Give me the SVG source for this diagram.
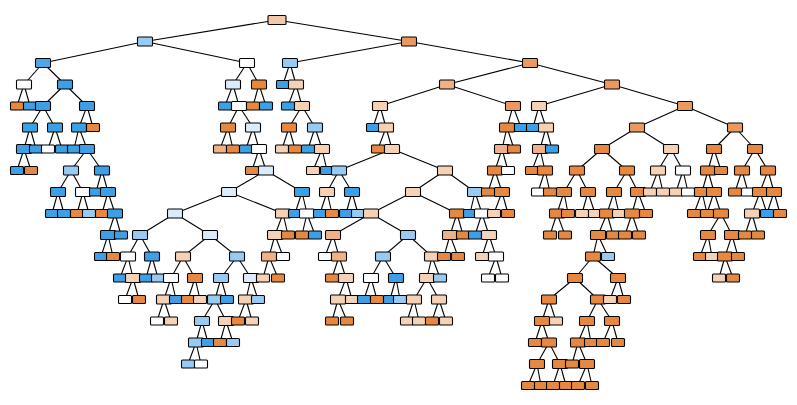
<svg xmlns="http://www.w3.org/2000/svg" width="797" height="405" viewBox="0 0 797 405">
<style>
.B{fill:#3d9fe6}.B2{fill:#4ea7e8}.LB{fill:#98cbf1}.VLB{fill:#dcebfa}.W{fill:#fbfdff}.BE{fill:#f5d1b6}.LO{fill:#efb286}.O{fill:#e6883f}.O2{fill:#ea9a5e}.RT{fill:#f3c8a8}
#edges line{stroke:#000;stroke-width:1.1}
</style>
<defs>
<rect id="R" x="-9" y="-4.5" width="18" height="9" rx="1" stroke="#000" stroke-width="1.1"/>
<rect id="I" x="-7.5" y="-4.5" width="15" height="9" rx="1" stroke="#000" stroke-width="1.1"/>
<rect id="L" x="-6.5" y="-4" width="13" height="8" rx="1" stroke="#000" stroke-width="1.1"/>
</defs>
<rect width="797" height="405" fill="#fff"/>
<g id="edges">
<line x1="277" y1="20" x2="145" y2="41.5"/><line x1="277" y1="20" x2="409" y2="41.5"/>
<line x1="145" y1="41.5" x2="43" y2="63"/><line x1="145" y1="41.5" x2="247" y2="63"/><line x1="409" y1="41.5" x2="290" y2="63"/><line x1="409" y1="41.5" x2="530" y2="63"/>
<line x1="43" y1="63" x2="24" y2="84.5"/><line x1="43" y1="63" x2="65" y2="84.5"/><line x1="247" y1="63" x2="233" y2="84.5"/><line x1="247" y1="63" x2="259" y2="84.5"/><line x1="290" y1="63" x2="283" y2="84.5"/><line x1="290" y1="63" x2="296" y2="84.5"/><line x1="530" y1="63" x2="447" y2="84.5"/><line x1="530" y1="63" x2="612" y2="84.5"/>
<line x1="24" y1="84.5" x2="17" y2="106"/><line x1="24" y1="84.5" x2="30" y2="106"/><line x1="65" y1="84.5" x2="43" y2="106"/><line x1="65" y1="84.5" x2="87" y2="106"/><line x1="233" y1="84.5" x2="225" y2="106"/><line x1="233" y1="84.5" x2="239" y2="106"/><line x1="259" y1="84.5" x2="253" y2="106"/><line x1="259" y1="84.5" x2="266" y2="106"/><line x1="296" y1="84.5" x2="288" y2="106"/><line x1="296" y1="84.5" x2="302" y2="106"/><line x1="447" y1="84.5" x2="380" y2="106"/><line x1="447" y1="84.5" x2="513" y2="106"/><line x1="612" y1="84.5" x2="539" y2="106"/><line x1="612" y1="84.5" x2="685" y2="106"/>
<line x1="43" y1="106" x2="30" y2="127.5"/><line x1="43" y1="106" x2="55" y2="127.5"/><line x1="87" y1="106" x2="79" y2="127.5"/><line x1="87" y1="106" x2="93" y2="127.5"/><line x1="239" y1="106" x2="228" y2="127.5"/><line x1="239" y1="106" x2="253" y2="127.5"/><line x1="302" y1="106" x2="289" y2="127.5"/><line x1="302" y1="106" x2="315" y2="127.5"/><line x1="380" y1="106" x2="373" y2="127.5"/><line x1="380" y1="106" x2="386" y2="127.5"/><line x1="513" y1="106" x2="507" y2="127.5"/><line x1="513" y1="106" x2="521" y2="127.5"/><line x1="539" y1="106" x2="533" y2="127.5"/><line x1="539" y1="106" x2="546" y2="127.5"/><line x1="685" y1="106" x2="637" y2="127.5"/><line x1="685" y1="106" x2="735" y2="127.5"/>
<line x1="30" y1="127.5" x2="24" y2="149"/><line x1="30" y1="127.5" x2="36" y2="149"/><line x1="55" y1="127.5" x2="48" y2="149"/><line x1="55" y1="127.5" x2="62" y2="149"/><line x1="79" y1="127.5" x2="74" y2="149"/><line x1="79" y1="127.5" x2="87" y2="149"/><line x1="228" y1="127.5" x2="220" y2="149"/><line x1="228" y1="127.5" x2="233" y2="149"/><line x1="253" y1="127.5" x2="246" y2="149"/><line x1="253" y1="127.5" x2="259" y2="149"/><line x1="289" y1="127.5" x2="282" y2="149"/><line x1="289" y1="127.5" x2="295" y2="149"/><line x1="315" y1="127.5" x2="308" y2="149"/><line x1="315" y1="127.5" x2="322" y2="149"/><line x1="386" y1="127.5" x2="378" y2="149"/><line x1="386" y1="127.5" x2="392" y2="149"/><line x1="507" y1="127.5" x2="502" y2="149"/><line x1="507" y1="127.5" x2="514" y2="149"/><line x1="546" y1="127.5" x2="540" y2="149"/><line x1="546" y1="127.5" x2="552" y2="149"/><line x1="637" y1="127.5" x2="602" y2="149"/><line x1="637" y1="127.5" x2="671" y2="149"/><line x1="735" y1="127.5" x2="714" y2="149"/><line x1="735" y1="127.5" x2="755" y2="149"/>
<line x1="24" y1="149" x2="17" y2="170.5"/><line x1="24" y1="149" x2="31" y2="170.5"/><line x1="87" y1="149" x2="71" y2="170.5"/><line x1="87" y1="149" x2="102" y2="170.5"/><line x1="259" y1="149" x2="252" y2="170.5"/><line x1="259" y1="149" x2="266" y2="170.5"/><line x1="322" y1="149" x2="313" y2="170.5"/><line x1="322" y1="149" x2="327" y2="170.5"/><line x1="392" y1="149" x2="339" y2="170.5"/><line x1="392" y1="149" x2="445" y2="170.5"/><line x1="502" y1="149" x2="495" y2="170.5"/><line x1="502" y1="149" x2="508" y2="170.5"/><line x1="540" y1="149" x2="532" y2="170.5"/><line x1="540" y1="149" x2="545" y2="170.5"/><line x1="602" y1="149" x2="577" y2="170.5"/><line x1="602" y1="149" x2="627" y2="170.5"/><line x1="671" y1="149" x2="658" y2="170.5"/><line x1="671" y1="149" x2="683" y2="170.5"/><line x1="714" y1="149" x2="708" y2="170.5"/><line x1="714" y1="149" x2="721" y2="170.5"/><line x1="755" y1="149" x2="742" y2="170.5"/><line x1="755" y1="149" x2="768" y2="170.5"/>
<line x1="71" y1="170.5" x2="58" y2="192"/><line x1="71" y1="170.5" x2="83" y2="192"/><line x1="102" y1="170.5" x2="96" y2="192"/><line x1="102" y1="170.5" x2="108" y2="192"/><line x1="266" y1="170.5" x2="229" y2="192"/><line x1="266" y1="170.5" x2="302" y2="192"/><line x1="339" y1="170.5" x2="327" y2="192"/><line x1="339" y1="170.5" x2="352" y2="192"/><line x1="445" y1="170.5" x2="413" y2="192"/><line x1="445" y1="170.5" x2="475" y2="192"/><line x1="495" y1="170.5" x2="488" y2="192"/><line x1="495" y1="170.5" x2="502" y2="192"/><line x1="545" y1="170.5" x2="538" y2="192"/><line x1="545" y1="170.5" x2="550" y2="192"/><line x1="577" y1="170.5" x2="564" y2="192"/><line x1="577" y1="170.5" x2="588" y2="192"/><line x1="627" y1="170.5" x2="614" y2="192"/><line x1="627" y1="170.5" x2="638" y2="192"/><line x1="658" y1="170.5" x2="650" y2="192"/><line x1="658" y1="170.5" x2="663" y2="192"/><line x1="683" y1="170.5" x2="676" y2="192"/><line x1="683" y1="170.5" x2="688" y2="192"/><line x1="708" y1="170.5" x2="702" y2="192"/><line x1="708" y1="170.5" x2="714" y2="192"/><line x1="742" y1="170.5" x2="735" y2="192"/><line x1="742" y1="170.5" x2="748" y2="192"/><line x1="768" y1="170.5" x2="760" y2="192"/><line x1="768" y1="170.5" x2="774" y2="192"/>
<line x1="58" y1="192" x2="52" y2="213.5"/><line x1="58" y1="192" x2="64" y2="213.5"/><line x1="83" y1="192" x2="77" y2="213.5"/><line x1="83" y1="192" x2="89" y2="213.5"/><line x1="108" y1="192" x2="102" y2="213.5"/><line x1="108" y1="192" x2="115" y2="213.5"/><line x1="229" y1="192" x2="175" y2="213.5"/><line x1="229" y1="192" x2="283" y2="213.5"/><line x1="302" y1="192" x2="295" y2="213.5"/><line x1="302" y1="192" x2="307" y2="213.5"/><line x1="327" y1="192" x2="320" y2="213.5"/><line x1="327" y1="192" x2="332" y2="213.5"/><line x1="352" y1="192" x2="346" y2="213.5"/><line x1="352" y1="192" x2="358" y2="213.5"/><line x1="413" y1="192" x2="371" y2="213.5"/><line x1="413" y1="192" x2="457" y2="213.5"/><line x1="475" y1="192" x2="470" y2="213.5"/><line x1="475" y1="192" x2="482" y2="213.5"/><line x1="502" y1="192" x2="494" y2="213.5"/><line x1="502" y1="192" x2="508" y2="213.5"/><line x1="564" y1="192" x2="557" y2="213.5"/><line x1="564" y1="192" x2="568" y2="213.5"/><line x1="588" y1="192" x2="582" y2="213.5"/><line x1="588" y1="192" x2="595" y2="213.5"/><line x1="614" y1="192" x2="607" y2="213.5"/><line x1="614" y1="192" x2="619" y2="213.5"/><line x1="638" y1="192" x2="632" y2="213.5"/><line x1="638" y1="192" x2="646" y2="213.5"/><line x1="702" y1="192" x2="694" y2="213.5"/><line x1="702" y1="192" x2="707" y2="213.5"/><line x1="714" y1="192" x2="707" y2="213.5"/><line x1="714" y1="192" x2="721" y2="213.5"/><line x1="760" y1="192" x2="752" y2="213.5"/><line x1="760" y1="192" x2="767" y2="213.5"/><line x1="774" y1="192" x2="767" y2="213.5"/><line x1="774" y1="192" x2="780" y2="213.5"/>
<line x1="115" y1="213.5" x2="108" y2="235"/><line x1="115" y1="213.5" x2="121" y2="235"/><line x1="175" y1="213.5" x2="140" y2="235"/><line x1="175" y1="213.5" x2="210" y2="235"/><line x1="283" y1="213.5" x2="275" y2="235"/><line x1="283" y1="213.5" x2="288" y2="235"/><line x1="307" y1="213.5" x2="302" y2="235"/><line x1="307" y1="213.5" x2="315" y2="235"/><line x1="371" y1="213.5" x2="333" y2="235"/><line x1="371" y1="213.5" x2="408" y2="235"/><line x1="457" y1="213.5" x2="450" y2="235"/><line x1="457" y1="213.5" x2="463" y2="235"/><line x1="482" y1="213.5" x2="475" y2="235"/><line x1="482" y1="213.5" x2="489" y2="235"/><line x1="557" y1="213.5" x2="550" y2="235"/><line x1="557" y1="213.5" x2="565" y2="235"/><line x1="607" y1="213.5" x2="598" y2="235"/><line x1="607" y1="213.5" x2="613" y2="235"/><line x1="632" y1="213.5" x2="625" y2="235"/><line x1="632" y1="213.5" x2="639" y2="235"/><line x1="721" y1="213.5" x2="708" y2="235"/><line x1="721" y1="213.5" x2="732" y2="235"/><line x1="752" y1="213.5" x2="745" y2="235"/><line x1="752" y1="213.5" x2="758" y2="235"/>
<line x1="108" y1="235" x2="101" y2="256.5"/><line x1="108" y1="235" x2="113" y2="256.5"/><line x1="140" y1="235" x2="128" y2="256.5"/><line x1="140" y1="235" x2="152" y2="256.5"/><line x1="210" y1="235" x2="183" y2="256.5"/><line x1="210" y1="235" x2="237" y2="256.5"/><line x1="275" y1="235" x2="269" y2="256.5"/><line x1="275" y1="235" x2="283" y2="256.5"/><line x1="333" y1="235" x2="325" y2="256.5"/><line x1="333" y1="235" x2="339" y2="256.5"/><line x1="408" y1="235" x2="383" y2="256.5"/><line x1="408" y1="235" x2="432" y2="256.5"/><line x1="450" y1="235" x2="444" y2="256.5"/><line x1="450" y1="235" x2="458" y2="256.5"/><line x1="489" y1="235" x2="482" y2="256.5"/><line x1="489" y1="235" x2="496" y2="256.5"/><line x1="598" y1="235" x2="593" y2="256.5"/><line x1="598" y1="235" x2="608" y2="256.5"/><line x1="708" y1="235" x2="700" y2="256.5"/><line x1="708" y1="235" x2="712" y2="256.5"/><line x1="732" y1="235" x2="725" y2="256.5"/><line x1="732" y1="235" x2="738" y2="256.5"/>
<line x1="128" y1="256.5" x2="120" y2="278"/><line x1="128" y1="256.5" x2="133" y2="278"/><line x1="152" y1="256.5" x2="146" y2="278"/><line x1="152" y1="256.5" x2="158" y2="278"/><line x1="183" y1="256.5" x2="171" y2="278"/><line x1="183" y1="256.5" x2="195" y2="278"/><line x1="237" y1="256.5" x2="221" y2="278"/><line x1="237" y1="256.5" x2="251" y2="278"/><line x1="269" y1="256.5" x2="263" y2="278"/><line x1="269" y1="256.5" x2="278" y2="278"/><line x1="339" y1="256.5" x2="332" y2="278"/><line x1="339" y1="256.5" x2="346" y2="278"/><line x1="383" y1="256.5" x2="371" y2="278"/><line x1="383" y1="256.5" x2="396" y2="278"/><line x1="432" y1="256.5" x2="427" y2="278"/><line x1="432" y1="256.5" x2="440" y2="278"/><line x1="496" y1="256.5" x2="488" y2="278"/><line x1="496" y1="256.5" x2="502" y2="278"/><line x1="593" y1="256.5" x2="575" y2="278"/><line x1="593" y1="256.5" x2="618" y2="278"/><line x1="725" y1="256.5" x2="719" y2="278"/><line x1="725" y1="256.5" x2="733" y2="278"/>
<line x1="133" y1="278" x2="125" y2="299.5"/><line x1="133" y1="278" x2="139" y2="299.5"/><line x1="171" y1="278" x2="164" y2="299.5"/><line x1="171" y1="278" x2="176" y2="299.5"/><line x1="195" y1="278" x2="188" y2="299.5"/><line x1="195" y1="278" x2="200" y2="299.5"/><line x1="221" y1="278" x2="215" y2="299.5"/><line x1="221" y1="278" x2="227" y2="299.5"/><line x1="251" y1="278" x2="246" y2="299.5"/><line x1="251" y1="278" x2="258" y2="299.5"/><line x1="346" y1="278" x2="338" y2="299.5"/><line x1="346" y1="278" x2="352" y2="299.5"/><line x1="371" y1="278" x2="364" y2="299.5"/><line x1="371" y1="278" x2="377" y2="299.5"/><line x1="396" y1="278" x2="390" y2="299.5"/><line x1="396" y1="278" x2="400" y2="299.5"/><line x1="427" y1="278" x2="414" y2="299.5"/><line x1="427" y1="278" x2="439" y2="299.5"/><line x1="575" y1="278" x2="549" y2="299.5"/><line x1="575" y1="278" x2="598" y2="299.5"/><line x1="618" y1="278" x2="610" y2="299.5"/><line x1="618" y1="278" x2="624" y2="299.5"/>
<line x1="164" y1="299.5" x2="157" y2="321"/><line x1="164" y1="299.5" x2="171" y2="321"/><line x1="215" y1="299.5" x2="202" y2="321"/><line x1="215" y1="299.5" x2="226" y2="321"/><line x1="246" y1="299.5" x2="238" y2="321"/><line x1="246" y1="299.5" x2="252" y2="321"/><line x1="338" y1="299.5" x2="332" y2="321"/><line x1="338" y1="299.5" x2="347" y2="321"/><line x1="414" y1="299.5" x2="407" y2="321"/><line x1="414" y1="299.5" x2="419" y2="321"/><line x1="439" y1="299.5" x2="432" y2="321"/><line x1="439" y1="299.5" x2="446" y2="321"/><line x1="549" y1="299.5" x2="542" y2="321"/><line x1="549" y1="299.5" x2="556" y2="321"/><line x1="598" y1="299.5" x2="587" y2="321"/><line x1="598" y1="299.5" x2="612" y2="321"/>
<line x1="202" y1="321" x2="196" y2="342.5"/><line x1="202" y1="321" x2="208" y2="342.5"/><line x1="226" y1="321" x2="220" y2="342.5"/><line x1="226" y1="321" x2="233" y2="342.5"/><line x1="542" y1="321" x2="535" y2="342.5"/><line x1="542" y1="321" x2="549" y2="342.5"/><line x1="587" y1="321" x2="578" y2="342.5"/><line x1="587" y1="321" x2="591" y2="342.5"/><line x1="612" y1="321" x2="603" y2="342.5"/><line x1="612" y1="321" x2="618" y2="342.5"/>
<line x1="196" y1="342.5" x2="188" y2="364"/><line x1="196" y1="342.5" x2="201" y2="364"/><line x1="549" y1="342.5" x2="537" y2="364"/><line x1="549" y1="342.5" x2="560" y2="364"/><line x1="578" y1="342.5" x2="572" y2="364"/><line x1="578" y1="342.5" x2="587" y2="364"/>
<line x1="537" y1="364" x2="528" y2="385.5"/><line x1="537" y1="364" x2="541" y2="385.5"/><line x1="560" y1="364" x2="553" y2="385.5"/><line x1="560" y1="364" x2="566" y2="385.5"/><line x1="587" y1="364" x2="578" y2="385.5"/><line x1="587" y1="364" x2="592" y2="385.5"/>
</g>
<g id="n0_277"><use href="#R" x="277" y="20" class="RT"/></g>
<g id="n1_145"><use href="#I" x="145" y="41.5" class="LB"/></g>
<g id="n1_409"><use href="#I" x="409" y="41.5" class="O2"/></g>
<g id="n2_43"><use href="#I" x="43" y="63" class="B2"/></g>
<g id="n2_247"><use href="#I" x="247" y="63" class="W"/></g>
<g id="n2_290"><use href="#I" x="290" y="63" class="LB"/></g>
<g id="n2_530"><use href="#I" x="530" y="63" class="O2"/></g>
<g id="n3_24"><use href="#I" x="24" y="84.5" class="W"/></g>
<g id="n3_65"><use href="#I" x="65" y="84.5" class="B"/></g>
<g id="n3_233"><use href="#I" x="233" y="84.5" class="VLB"/></g>
<g id="n3_259"><use href="#I" x="259" y="84.5" class="O"/></g>
<g id="n3_283"><use href="#L" x="283" y="84.5" class="B"/></g>
<g id="n3_296"><use href="#I" x="296" y="84.5" class="BE"/></g>
<g id="n3_447"><use href="#I" x="447" y="84.5" class="LO"/></g>
<g id="n3_612"><use href="#I" x="612" y="84.5" class="O2"/></g>
<g id="n4_17"><use href="#L" x="17" y="106" class="O"/></g>
<g id="n4_30"><use href="#L" x="30" y="106" class="B"/></g>
<g id="n4_43"><use href="#I" x="43" y="106" class="B"/></g>
<g id="n4_87"><use href="#I" x="87" y="106" class="B"/></g>
<g id="n4_225"><use href="#L" x="225" y="106" class="B"/></g>
<g id="n4_239"><use href="#I" x="239" y="106" class="W"/></g>
<g id="n4_253"><use href="#L" x="253" y="106" class="O"/></g>
<g id="n4_266"><use href="#L" x="266" y="106" class="B"/></g>
<g id="n4_288"><use href="#L" x="288" y="106" class="B"/></g>
<g id="n4_302"><use href="#I" x="302" y="106" class="BE"/></g>
<g id="n4_380"><use href="#I" x="380" y="106" class="BE"/></g>
<g id="n4_513"><use href="#I" x="513" y="106" class="O2"/></g>
<g id="n4_539"><use href="#I" x="539" y="106" class="BE"/></g>
<g id="n4_685"><use href="#I" x="685" y="106" class="O2"/></g>
<g id="n5_30"><use href="#I" x="30" y="127.5" class="B"/></g>
<g id="n5_55"><use href="#I" x="55" y="127.5" class="B"/></g>
<g id="n5_79"><use href="#I" x="79" y="127.5" class="B"/></g>
<g id="n5_93"><use href="#L" x="93" y="127.5" class="O"/></g>
<g id="n5_228"><use href="#I" x="228" y="127.5" class="O"/></g>
<g id="n5_253"><use href="#I" x="253" y="127.5" class="VLB"/></g>
<g id="n5_289"><use href="#I" x="289" y="127.5" class="O"/></g>
<g id="n5_315"><use href="#I" x="315" y="127.5" class="LB"/></g>
<g id="n5_373"><use href="#L" x="373" y="127.5" class="B"/></g>
<g id="n5_386"><use href="#I" x="386" y="127.5" class="BE"/></g>
<g id="n5_507"><use href="#I" x="507" y="127.5" class="O"/></g>
<g id="n5_521"><use href="#L" x="521" y="127.5" class="B"/></g>
<g id="n5_533"><use href="#L" x="533" y="127.5" class="B"/></g>
<g id="n5_546"><use href="#I" x="546" y="127.5" class="BE"/></g>
<g id="n5_637"><use href="#I" x="637" y="127.5" class="O2"/></g>
<g id="n5_735"><use href="#I" x="735" y="127.5" class="O2"/></g>
<g id="n6_24"><use href="#I" x="24" y="149" class="B"/></g>
<g id="n6_36"><use href="#L" x="36" y="149" class="B"/></g>
<g id="n6_48"><use href="#L" x="48" y="149" class="W"/></g>
<g id="n6_62"><use href="#L" x="62" y="149" class="B"/></g>
<g id="n6_74"><use href="#L" x="74" y="149" class="B"/></g>
<g id="n6_87"><use href="#I" x="87" y="149" class="B"/></g>
<g id="n6_220"><use href="#L" x="220" y="149" class="LO"/></g>
<g id="n6_233"><use href="#L" x="233" y="149" class="O"/></g>
<g id="n6_246"><use href="#L" x="246" y="149" class="B"/></g>
<g id="n6_259"><use href="#I" x="259" y="149" class="W"/></g>
<g id="n6_282"><use href="#L" x="282" y="149" class="BE"/></g>
<g id="n6_295"><use href="#L" x="295" y="149" class="O"/></g>
<g id="n6_308"><use href="#L" x="308" y="149" class="B"/></g>
<g id="n6_322"><use href="#I" x="322" y="149" class="BE"/></g>
<g id="n6_378"><use href="#L" x="378" y="149" class="O"/></g>
<g id="n6_392"><use href="#I" x="392" y="149" class="BE"/></g>
<g id="n6_502"><use href="#I" x="502" y="149" class="LO"/></g>
<g id="n6_514"><use href="#L" x="514" y="149" class="O"/></g>
<g id="n6_540"><use href="#I" x="540" y="149" class="LO"/></g>
<g id="n6_552"><use href="#L" x="552" y="149" class="B"/></g>
<g id="n6_602"><use href="#I" x="602" y="149" class="O"/></g>
<g id="n6_671"><use href="#I" x="671" y="149" class="BE"/></g>
<g id="n6_714"><use href="#I" x="714" y="149" class="O"/></g>
<g id="n6_755"><use href="#I" x="755" y="149" class="O"/></g>
<g id="n7_17"><use href="#L" x="17" y="170.5" class="B"/></g>
<g id="n7_31"><use href="#L" x="31" y="170.5" class="O"/></g>
<g id="n7_71"><use href="#I" x="71" y="170.5" class="LB"/></g>
<g id="n7_102"><use href="#I" x="102" y="170.5" class="B"/></g>
<g id="n7_252"><use href="#L" x="252" y="170.5" class="O"/></g>
<g id="n7_266"><use href="#I" x="266" y="170.5" class="VLB"/></g>
<g id="n7_313"><use href="#L" x="313" y="170.5" class="BE"/></g>
<g id="n7_327"><use href="#L" x="327" y="170.5" class="B"/></g>
<g id="n7_339"><use href="#I" x="339" y="170.5" class="LB"/></g>
<g id="n7_445"><use href="#I" x="445" y="170.5" class="BE"/></g>
<g id="n7_495"><use href="#I" x="495" y="170.5" class="O"/></g>
<g id="n7_508"><use href="#L" x="508" y="170.5" class="W"/></g>
<g id="n7_532"><use href="#L" x="532" y="170.5" class="O"/></g>
<g id="n7_545"><use href="#I" x="545" y="170.5" class="O"/></g>
<g id="n7_577"><use href="#I" x="577" y="170.5" class="O"/></g>
<g id="n7_627"><use href="#I" x="627" y="170.5" class="O"/></g>
<g id="n7_658"><use href="#I" x="658" y="170.5" class="BE"/></g>
<g id="n7_683"><use href="#I" x="683" y="170.5" class="W"/></g>
<g id="n7_708"><use href="#I" x="708" y="170.5" class="O"/></g>
<g id="n7_721"><use href="#L" x="721" y="170.5" class="O"/></g>
<g id="n7_742"><use href="#I" x="742" y="170.5" class="O"/></g>
<g id="n7_768"><use href="#I" x="768" y="170.5" class="O"/></g>
<g id="n8_58"><use href="#I" x="58" y="192" class="B"/></g>
<g id="n8_83"><use href="#I" x="83" y="192" class="W"/></g>
<g id="n8_96"><use href="#L" x="96" y="192" class="B"/></g>
<g id="n8_108"><use href="#I" x="108" y="192" class="B"/></g>
<g id="n8_229"><use href="#I" x="229" y="192" class="VLB"/></g>
<g id="n8_302"><use href="#I" x="302" y="192" class="B"/></g>
<g id="n8_327"><use href="#I" x="327" y="192" class="BE"/></g>
<g id="n8_352"><use href="#I" x="352" y="192" class="B"/></g>
<g id="n8_413"><use href="#I" x="413" y="192" class="BE"/></g>
<g id="n8_475"><use href="#I" x="475" y="192" class="LB"/></g>
<g id="n8_488"><use href="#L" x="488" y="192" class="O"/></g>
<g id="n8_502"><use href="#I" x="502" y="192" class="O"/></g>
<g id="n8_538"><use href="#L" x="538" y="192" class="W"/></g>
<g id="n8_550"><use href="#L" x="550" y="192" class="O"/></g>
<g id="n8_564"><use href="#I" x="564" y="192" class="O"/></g>
<g id="n8_588"><use href="#I" x="588" y="192" class="O"/></g>
<g id="n8_614"><use href="#I" x="614" y="192" class="O"/></g>
<g id="n8_638"><use href="#I" x="638" y="192" class="O"/></g>
<g id="n8_650"><use href="#L" x="650" y="192" class="BE"/></g>
<g id="n8_663"><use href="#L" x="663" y="192" class="BE"/></g>
<g id="n8_676"><use href="#L" x="676" y="192" class="BE"/></g>
<g id="n8_688"><use href="#L" x="688" y="192" class="W"/></g>
<g id="n8_702"><use href="#I" x="702" y="192" class="O"/></g>
<g id="n8_714"><use href="#I" x="714" y="192" class="O"/></g>
<g id="n8_735"><use href="#L" x="735" y="192" class="O"/></g>
<g id="n8_748"><use href="#L" x="748" y="192" class="W"/></g>
<g id="n8_760"><use href="#I" x="760" y="192" class="O"/></g>
<g id="n8_774"><use href="#I" x="774" y="192" class="O"/></g>
<g id="n9_52"><use href="#L" x="52" y="213.5" class="B"/></g>
<g id="n9_64"><use href="#L" x="64" y="213.5" class="B"/></g>
<g id="n9_77"><use href="#L" x="77" y="213.5" class="O"/></g>
<g id="n9_89"><use href="#L" x="89" y="213.5" class="LB"/></g>
<g id="n9_102"><use href="#L" x="102" y="213.5" class="O"/></g>
<g id="n9_115"><use href="#I" x="115" y="213.5" class="B"/></g>
<g id="n9_175"><use href="#I" x="175" y="213.5" class="VLB"/></g>
<g id="n9_283"><use href="#I" x="283" y="213.5" class="BE"/></g>
<g id="n9_295"><use href="#L" x="295" y="213.5" class="B"/></g>
<g id="n9_307"><use href="#I" x="307" y="213.5" class="W"/></g>
<g id="n9_320"><use href="#L" x="320" y="213.5" class="B"/></g>
<g id="n9_332"><use href="#L" x="332" y="213.5" class="O"/></g>
<g id="n9_346"><use href="#L" x="346" y="213.5" class="B"/></g>
<g id="n9_358"><use href="#L" x="358" y="213.5" class="LB"/></g>
<g id="n9_371"><use href="#I" x="371" y="213.5" class="BE"/></g>
<g id="n9_457"><use href="#I" x="457" y="213.5" class="O"/></g>
<g id="n9_470"><use href="#L" x="470" y="213.5" class="B"/></g>
<g id="n9_482"><use href="#I" x="482" y="213.5" class="W"/></g>
<g id="n9_494"><use href="#L" x="494" y="213.5" class="BE"/></g>
<g id="n9_508"><use href="#L" x="508" y="213.5" class="O"/></g>
<g id="n9_557"><use href="#I" x="557" y="213.5" class="O"/></g>
<g id="n9_568"><use href="#L" x="568" y="213.5" class="O"/></g>
<g id="n9_582"><use href="#L" x="582" y="213.5" class="BE"/></g>
<g id="n9_595"><use href="#L" x="595" y="213.5" class="BE"/></g>
<g id="n9_607"><use href="#I" x="607" y="213.5" class="O"/></g>
<g id="n9_619"><use href="#L" x="619" y="213.5" class="BE"/></g>
<g id="n9_632"><use href="#I" x="632" y="213.5" class="O"/></g>
<g id="n9_646"><use href="#L" x="646" y="213.5" class="O"/></g>
<g id="n9_694"><use href="#L" x="694" y="213.5" class="O"/></g>
<g id="n9_707"><use href="#L" x="707" y="213.5" class="O"/></g>
<g id="n9_721"><use href="#I" x="721" y="213.5" class="O"/></g>
<g id="n9_752"><use href="#I" x="752" y="213.5" class="BE"/></g>
<g id="n9_767"><use href="#L" x="767" y="213.5" class="B"/></g>
<g id="n9_780"><use href="#L" x="780" y="213.5" class="O"/></g>
<g id="n10_108"><use href="#I" x="108" y="235" class="B"/></g>
<g id="n10_121"><use href="#L" x="121" y="235" class="B"/></g>
<g id="n10_140"><use href="#I" x="140" y="235" class="LB"/></g>
<g id="n10_210"><use href="#I" x="210" y="235" class="VLB"/></g>
<g id="n10_275"><use href="#I" x="275" y="235" class="BE"/></g>
<g id="n10_288"><use href="#L" x="288" y="235" class="O"/></g>
<g id="n10_302"><use href="#L" x="302" y="235" class="O"/></g>
<g id="n10_315"><use href="#L" x="315" y="235" class="B"/></g>
<g id="n10_333"><use href="#I" x="333" y="235" class="LO"/></g>
<g id="n10_408"><use href="#I" x="408" y="235" class="LB"/></g>
<g id="n10_450"><use href="#I" x="450" y="235" class="LO"/></g>
<g id="n10_463"><use href="#L" x="463" y="235" class="O"/></g>
<g id="n10_475"><use href="#L" x="475" y="235" class="B"/></g>
<g id="n10_489"><use href="#I" x="489" y="235" class="BE"/></g>
<g id="n10_550"><use href="#L" x="550" y="235" class="O"/></g>
<g id="n10_565"><use href="#L" x="565" y="235" class="O"/></g>
<g id="n10_598"><use href="#I" x="598" y="235" class="O"/></g>
<g id="n10_613"><use href="#L" x="613" y="235" class="O"/></g>
<g id="n10_625"><use href="#L" x="625" y="235" class="O"/></g>
<g id="n10_639"><use href="#L" x="639" y="235" class="O"/></g>
<g id="n10_708"><use href="#I" x="708" y="235" class="O"/></g>
<g id="n10_732"><use href="#I" x="732" y="235" class="O"/></g>
<g id="n10_745"><use href="#L" x="745" y="235" class="O"/></g>
<g id="n10_758"><use href="#L" x="758" y="235" class="O"/></g>
<g id="n11_101"><use href="#L" x="101" y="256.5" class="B"/></g>
<g id="n11_113"><use href="#L" x="113" y="256.5" class="O"/></g>
<g id="n11_128"><use href="#I" x="128" y="256.5" class="W"/></g>
<g id="n11_152"><use href="#I" x="152" y="256.5" class="B"/></g>
<g id="n11_183"><use href="#I" x="183" y="256.5" class="BE"/></g>
<g id="n11_237"><use href="#I" x="237" y="256.5" class="LB"/></g>
<g id="n11_269"><use href="#I" x="269" y="256.5" class="LO"/></g>
<g id="n11_283"><use href="#L" x="283" y="256.5" class="W"/></g>
<g id="n11_325"><use href="#L" x="325" y="256.5" class="W"/></g>
<g id="n11_339"><use href="#I" x="339" y="256.5" class="LO"/></g>
<g id="n11_383"><use href="#I" x="383" y="256.5" class="LB"/></g>
<g id="n11_432"><use href="#I" x="432" y="256.5" class="BE"/></g>
<g id="n11_444"><use href="#L" x="444" y="256.5" class="O"/></g>
<g id="n11_458"><use href="#L" x="458" y="256.5" class="O"/></g>
<g id="n11_482"><use href="#L" x="482" y="256.5" class="BE"/></g>
<g id="n11_496"><use href="#I" x="496" y="256.5" class="W"/></g>
<g id="n11_593"><use href="#I" x="593" y="256.5" class="O"/></g>
<g id="n11_608"><use href="#L" x="608" y="256.5" class="LB"/></g>
<g id="n11_700"><use href="#L" x="700" y="256.5" class="O"/></g>
<g id="n11_712"><use href="#L" x="712" y="256.5" class="BE"/></g>
<g id="n11_725"><use href="#I" x="725" y="256.5" class="O"/></g>
<g id="n11_738"><use href="#L" x="738" y="256.5" class="O"/></g>
<g id="n12_120"><use href="#L" x="120" y="278" class="B"/></g>
<g id="n12_133"><use href="#I" x="133" y="278" class="BE"/></g>
<g id="n12_146"><use href="#L" x="146" y="278" class="B"/></g>
<g id="n12_158"><use href="#L" x="158" y="278" class="LB"/></g>
<g id="n12_171"><use href="#I" x="171" y="278" class="W"/></g>
<g id="n12_195"><use href="#I" x="195" y="278" class="O"/></g>
<g id="n12_221"><use href="#I" x="221" y="278" class="LB"/></g>
<g id="n12_251"><use href="#I" x="251" y="278" class="VLB"/></g>
<g id="n12_263"><use href="#L" x="263" y="278" class="BE"/></g>
<g id="n12_278"><use href="#L" x="278" y="278" class="O"/></g>
<g id="n12_332"><use href="#L" x="332" y="278" class="O"/></g>
<g id="n12_346"><use href="#I" x="346" y="278" class="BE"/></g>
<g id="n12_371"><use href="#I" x="371" y="278" class="W"/></g>
<g id="n12_396"><use href="#I" x="396" y="278" class="B"/></g>
<g id="n12_427"><use href="#I" x="427" y="278" class="BE"/></g>
<g id="n12_440"><use href="#L" x="440" y="278" class="LB"/></g>
<g id="n12_488"><use href="#L" x="488" y="278" class="W"/></g>
<g id="n12_502"><use href="#L" x="502" y="278" class="W"/></g>
<g id="n12_575"><use href="#I" x="575" y="278" class="O"/></g>
<g id="n12_618"><use href="#I" x="618" y="278" class="O"/></g>
<g id="n12_719"><use href="#L" x="719" y="278" class="BE"/></g>
<g id="n12_733"><use href="#L" x="733" y="278" class="O"/></g>
<g id="n13_125"><use href="#L" x="125" y="299.5" class="W"/></g>
<g id="n13_139"><use href="#L" x="139" y="299.5" class="O"/></g>
<g id="n13_164"><use href="#I" x="164" y="299.5" class="BE"/></g>
<g id="n13_176"><use href="#L" x="176" y="299.5" class="B"/></g>
<g id="n13_188"><use href="#L" x="188" y="299.5" class="O"/></g>
<g id="n13_200"><use href="#L" x="200" y="299.5" class="BE"/></g>
<g id="n13_215"><use href="#I" x="215" y="299.5" class="LB"/></g>
<g id="n13_227"><use href="#L" x="227" y="299.5" class="B"/></g>
<g id="n13_246"><use href="#I" x="246" y="299.5" class="BE"/></g>
<g id="n13_258"><use href="#L" x="258" y="299.5" class="LB"/></g>
<g id="n13_338"><use href="#I" x="338" y="299.5" class="BE"/></g>
<g id="n13_352"><use href="#L" x="352" y="299.5" class="BE"/></g>
<g id="n13_364"><use href="#L" x="364" y="299.5" class="B"/></g>
<g id="n13_377"><use href="#L" x="377" y="299.5" class="O"/></g>
<g id="n13_390"><use href="#L" x="390" y="299.5" class="B"/></g>
<g id="n13_400"><use href="#L" x="400" y="299.5" class="LB"/></g>
<g id="n13_414"><use href="#I" x="414" y="299.5" class="BE"/></g>
<g id="n13_439"><use href="#I" x="439" y="299.5" class="BE"/></g>
<g id="n13_549"><use href="#I" x="549" y="299.5" class="O"/></g>
<g id="n13_598"><use href="#I" x="598" y="299.5" class="O"/></g>
<g id="n13_610"><use href="#L" x="610" y="299.5" class="BE"/></g>
<g id="n13_624"><use href="#L" x="624" y="299.5" class="O"/></g>
<g id="n14_157"><use href="#L" x="157" y="321" class="W"/></g>
<g id="n14_171"><use href="#L" x="171" y="321" class="BE"/></g>
<g id="n14_202"><use href="#I" x="202" y="321" class="LB"/></g>
<g id="n14_226"><use href="#I" x="226" y="321" class="BE"/></g>
<g id="n14_238"><use href="#L" x="238" y="321" class="O"/></g>
<g id="n14_252"><use href="#L" x="252" y="321" class="BE"/></g>
<g id="n14_332"><use href="#L" x="332" y="321" class="O"/></g>
<g id="n14_347"><use href="#L" x="347" y="321" class="O"/></g>
<g id="n14_407"><use href="#L" x="407" y="321" class="BE"/></g>
<g id="n14_419"><use href="#L" x="419" y="321" class="BE"/></g>
<g id="n14_432"><use href="#L" x="432" y="321" class="O"/></g>
<g id="n14_446"><use href="#L" x="446" y="321" class="BE"/></g>
<g id="n14_542"><use href="#I" x="542" y="321" class="O"/></g>
<g id="n14_556"><use href="#L" x="556" y="321" class="BE"/></g>
<g id="n14_587"><use href="#I" x="587" y="321" class="O"/></g>
<g id="n14_612"><use href="#I" x="612" y="321" class="O"/></g>
<g id="n15_196"><use href="#I" x="196" y="342.5" class="LB"/></g>
<g id="n15_208"><use href="#L" x="208" y="342.5" class="B"/></g>
<g id="n15_220"><use href="#L" x="220" y="342.5" class="O"/></g>
<g id="n15_233"><use href="#L" x="233" y="342.5" class="LB"/></g>
<g id="n15_535"><use href="#L" x="535" y="342.5" class="O"/></g>
<g id="n15_549"><use href="#I" x="549" y="342.5" class="O"/></g>
<g id="n15_578"><use href="#I" x="578" y="342.5" class="O"/></g>
<g id="n15_591"><use href="#L" x="591" y="342.5" class="O"/></g>
<g id="n15_603"><use href="#L" x="603" y="342.5" class="O"/></g>
<g id="n15_618"><use href="#L" x="618" y="342.5" class="O"/></g>
<g id="n16_188"><use href="#L" x="188" y="364" class="LB"/></g>
<g id="n16_201"><use href="#L" x="201" y="364" class="W"/></g>
<g id="n16_537"><use href="#I" x="537" y="364" class="O"/></g>
<g id="n16_560"><use href="#I" x="560" y="364" class="O"/></g>
<g id="n16_572"><use href="#L" x="572" y="364" class="O"/></g>
<g id="n16_587"><use href="#I" x="587" y="364" class="O"/></g>
<g id="n17_528"><use href="#L" x="528" y="385.5" class="O"/></g>
<g id="n17_541"><use href="#L" x="541" y="385.5" class="O"/></g>
<g id="n17_553"><use href="#L" x="553" y="385.5" class="O"/></g>
<g id="n17_566"><use href="#L" x="566" y="385.5" class="O"/></g>
<g id="n17_578"><use href="#L" x="578" y="385.5" class="O"/></g>
<g id="n17_592"><use href="#L" x="592" y="385.5" class="O"/></g>
</svg>
